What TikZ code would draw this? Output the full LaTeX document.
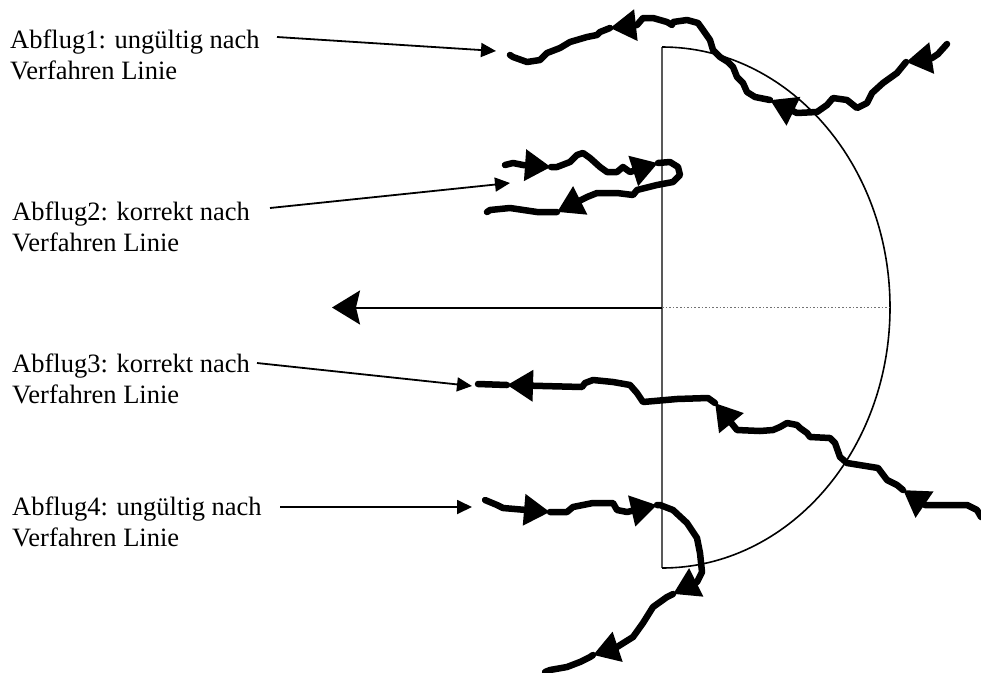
\documentclass[tikz,border=0pt]{standalone}
\usepackage{fontspec}
\setmainfont{Liberation Serif}
\usetikzlibrary{arrows.meta}
\tikzset{
  lbl/.style={font=\fontsize{26.5}{31}\selectfont, align=left, inner sep=0pt, anchor=base west},
  labarrow/.style={line width=1.8pt, -{Triangle[length=15pt,width=14pt]}},
  flight/.style={line width=6.5pt, line join=round, line cap=round},
  fseg/.style={flight, -{Triangle[length=26pt,width=30pt]}},
  axisline/.style={line width=2.2pt, draw=black!65},
}
\begin{document}
\begin{tikzpicture}[x=1pt,y=-1pt]
\useasboundingbox (0,0) rectangle (981,672);
\fill[white] (0,0) rectangle (981,672);

% labels (anchor = baseline of the last line)
\node[lbl] (t1) at (10,79) {Abflug1: ungültig nach\\Verfahren Linie};
\node[lbl] (t2) at (12,251) {Abflug2: korrekt nach\\Verfahren Linie};
\node[lbl] (t3) at (12,403) {Abflug3: korrekt nach\\Verfahren Linie};
\node[lbl] (t4) at (12,546) {Abflug4: ungültig nach\\Verfahren Linie};

% label arrows
\coordinate (s1) at (277,37);  \coordinate (e1) at (496,51);
\coordinate (s2) at (270,208); \coordinate (e2) at (510,183);
\coordinate (s3) at (257,363); \coordinate (e3) at (472,386);
\coordinate (s4) at (280,507); \coordinate (e4) at (472,507);
\draw[labarrow] (s1) -- (e1);
\draw[labarrow] (s2) -- (e2);
\draw[labarrow] (s3) -- (e3);
\draw[labarrow] (s4) -- (e4);

% procedure area: vertical line, half ellipse, axis
\coordinate (o) at (662,307.5);
\coordinate (top) at (662,47);
\coordinate (bot) at (662,568);
\coordinate (rgt) at (890,307.5);
\coordinate (ah) at (332,307.5);
\draw[axisline] (top) -- (bot);
\draw[line width=1.6pt] (top) arc[start angle=90, end angle=-90, x radius=228pt, y radius=260.5pt];
\draw[line width=1.6pt, draw=black!55, dotted] (o) -- (rgt);
\draw[line width=2pt, -{Stealth[length=28pt,width=34pt,inset=4pt]}] (o) -- (ah);

% Abflug1 (right to left)
\coordinate (p1a) at (906,62);
\coordinate (p1b) at (770,100);
\coordinate (p1c) at (610,28);
\draw[fseg] (947,44) -- (938,54) -- (932,58) -- (p1a);
\draw[fseg] (p1a) -- (897,73) -- (883,83) -- (872,93) -- (867,103) -- (857,108) -- (847,100) -- (833,98) -- (827,105) -- (817,112) -- (797,113) -- (p1b);
\draw[fseg] (p1b) -- (755,97) -- (747,92) -- (743,83) -- (737,77) -- (733,67) -- (728,62) -- (720,57) -- (713,50) -- (710,40) -- (703,30) -- (698,23) -- (687,20) -- (673,22) -- (672,25) -- (667,22) -- (653,18) -- (643,18) -- (637,25) -- (p1c);
\draw[flight] (p1c) -- (600,32) -- (597,35) -- (587,37) -- (570,42) -- (560,48) -- (547,53) -- (540,60) -- (527,62) -- (513,57) -- (510,55);

% Abflug2 (out and back)
\coordinate (p2a) at (551,167);
\coordinate (p2b) at (658,163);
\coordinate (p2c) at (557,212);
\draw[fseg] (505,165) -- (513,163) -- (523,165) -- (p2a);
\draw[fseg] (p2a) -- (557,167) -- (570,162) -- (577,155) -- (583,153) -- (590,158) -- (600,167) -- (607,172) -- (617,172) -- (623,167) -- (630,172) -- (p2b);
\draw[fseg] (p2b) -- (670,162) -- (678,167) -- (680,175) -- (673,182) -- (657,185) -- (637,190) -- (633,195) -- (617,193) -- (597,193) -- (587,197) -- (p2c);
\draw[flight] (p2c) -- (537,212) -- (510,208) -- (490,210) -- (487,212);

% Abflug3 (right to left)
\coordinate (p3a) at (903,490);
\coordinate (p3b) at (715,403);
\coordinate (p3c) at (507,385);
\draw[fseg] (981,517) -- (977,510) -- (967,505) -- (925,505) -- (p3a);
\draw[fseg] (p3a) -- (897,485) -- (887,480) -- (878,468) -- (847,463) -- (840,457) -- (835,443) -- (830,438) -- (810,437) -- (807,433) -- (800,428) -- (797,425) -- (787,423) -- (780,427) -- (773,430) -- (760,431) -- (737,430) -- (p3b);
\draw[fseg] (p3b) -- (708,398) -- (677,399) -- (643,402) -- (637,393) -- (630,385) -- (613,382) -- (593,380) -- (585,383) -- (582,387) -- (543,386) -- (p3c);
\draw[flight] (p3c) -- (478,384);

% Abflug4 (in, then turning down-left)
\coordinate (p4a) at (550,512);
\coordinate (p4b) at (657,505);
\coordinate (p4c) at (673,594);
\coordinate (p4d) at (593,655);
\draw[fseg] (485,500) -- (497,505) -- (503,508) -- (p4a);
\draw[fseg] (p4a) -- (567,512) -- (573,507) -- (593,503) -- (613,503) -- (617,510) -- (627,512) -- (p4b);
\draw[fseg] (p4b) -- (660,505) -- (673,510) -- (687,523) -- (697,538) -- (700,553) -- (702,572) -- (697,582) -- (p4c);
\draw[fseg] (p4c) -- (667,597) -- (653,607) -- (643,623) -- (633,637) -- (617,647) -- (p4d);
\draw[flight] (p4d) -- (590,657) -- (580,662) -- (567,667) -- (550,670) -- (545,672);
\end{tikzpicture}
\end{document}
